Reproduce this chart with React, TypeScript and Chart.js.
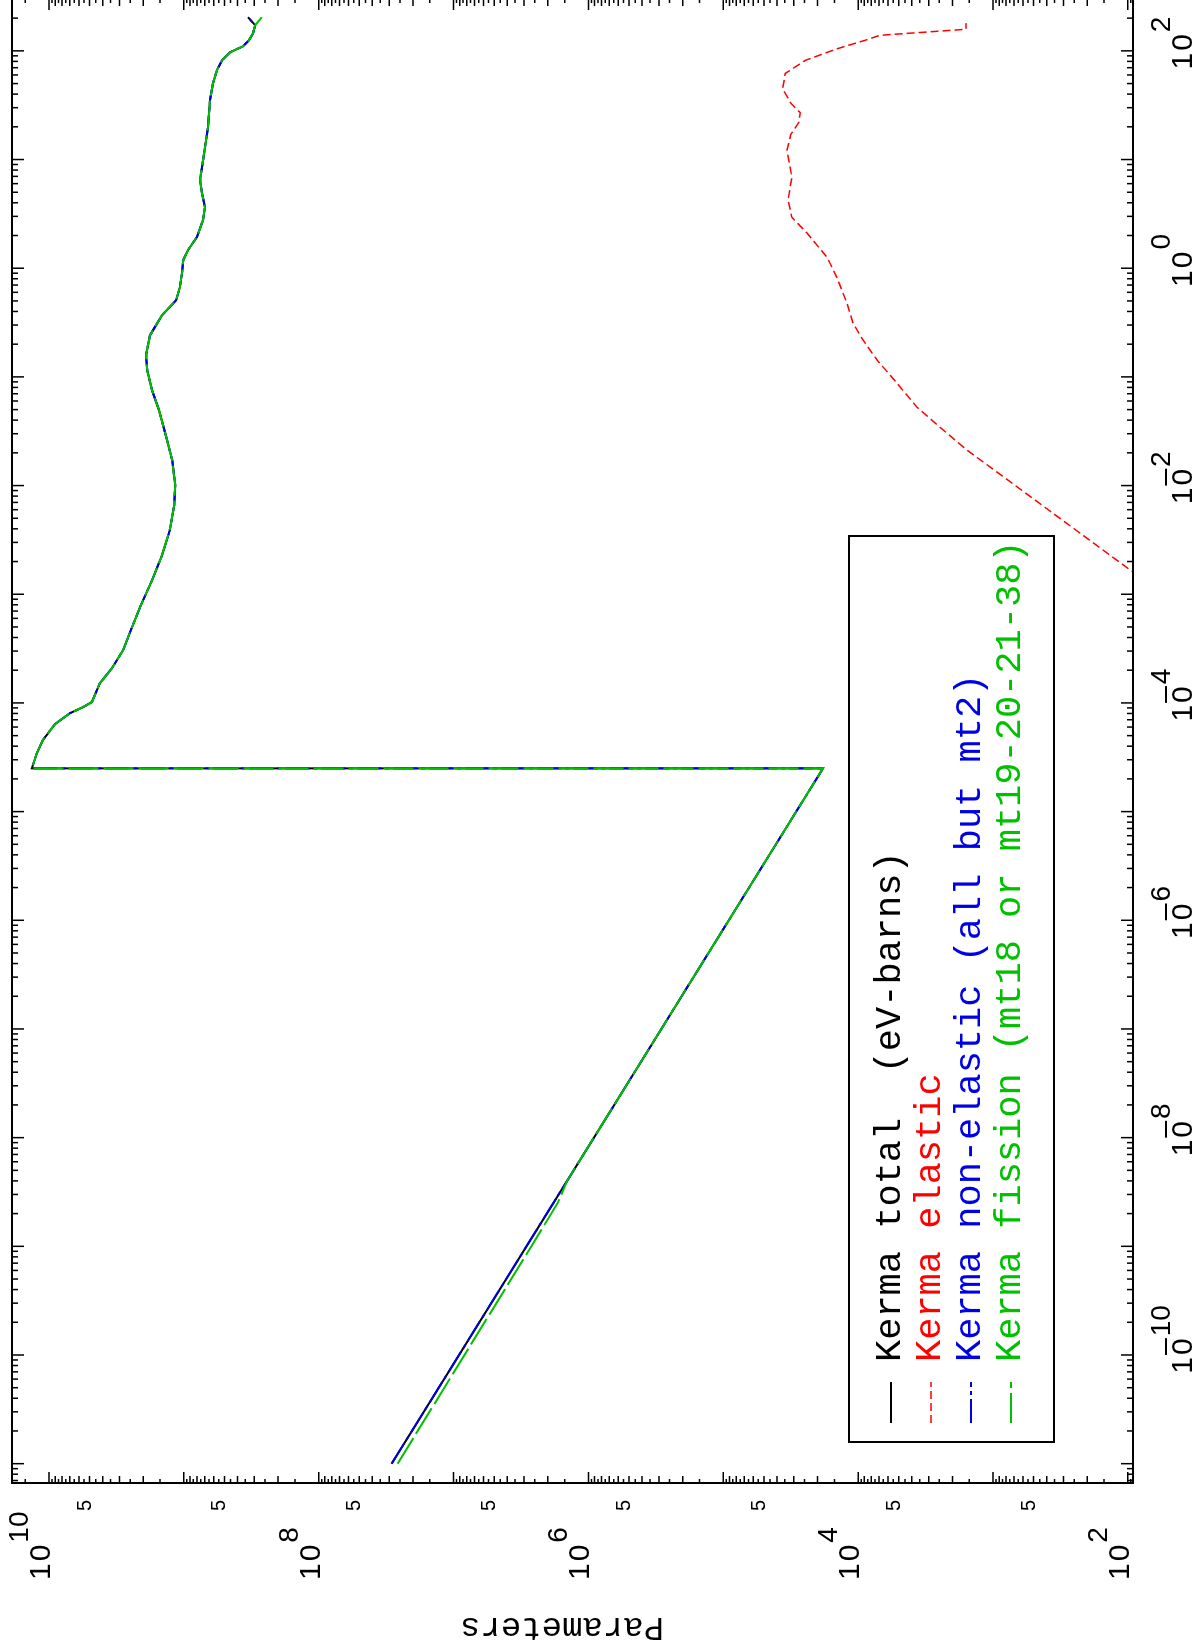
import React, { useEffect, useRef } from 'react';
import { Chart, registerables } from 'chart.js';

Chart.register(...registerables);

// ---------- data (energy in MeV as on the axis, kerma in eV-barns) ----------
const totalEnergy = [1e-11, 4e-9, 2.5e-5, 2.5e-5, 3.45e-5, 4.55e-5, 6.38e-5, 8.05e-5, 9.14e-5, 1.02e-4, 1.52e-4, 2.09e-4, 3.06e-4, 4.68e-4, 7.94e-4, 1.35e-3, 2.29e-3, 3.89e-3, 6.61e-3, 1.01e-2, 1.71e-2, 2.91e-2, 4.94e-2, 7.55e-2, 0.115, 0.158, 0.242, 0.370, 0.508, 0.668, 0.90, 1.19, 1.47, 1.93, 2.77, 3.64, 4.90, 6.46, 8.49, 13.0, 19.8, 35.2, 50.4, 66.4, 82.0, 97.0, 110, 125, 145, 172, 204];
const totalKerma = [2.88e7, 1.44e6, 1.82e4, 1.34e10, 1.23e10, 1.11e10, 9.04e9, 6.98e9, 5.60e9, 4.80e9, 4.19e9, 3.41e9, 2.82e9, 2.47e9, 2.08e9, 1.72e9, 1.45e9, 1.27e9, 1.18e9, 1.16e9, 1.22e9, 1.36e9, 1.53e9, 1.72e9, 1.87e9, 1.91e9, 1.78e9, 1.45e9, 1.14e9, 1.07e9, 1.03e9, 1.01e9, 9.31e8, 8.00e8, 7.21e8, 6.97e8, 7.33e8, 7.59e8, 7.33e8, 6.97e8, 6.62e8, 6.40e8, 6.08e8, 5.68e8, 5.21e8, 4.55e8, 3.64e8, 3.29e8, 3.07e8, 2.96e8, 3.34e8];

const nonElasticEnergy = [1e-11, 4e-9, 2.5e-5, 2.5e-5, 3.45e-5, 4.55e-5, 6.38e-5, 8.05e-5, 9.14e-5, 1.02e-4, 1.52e-4, 2.09e-4, 3.06e-4, 4.68e-4, 7.94e-4, 1.35e-3, 2.29e-3, 3.89e-3, 6.61e-3, 1.01e-2, 1.71e-2, 2.91e-2, 4.94e-2, 7.55e-2, 0.115, 0.158, 0.242, 0.370, 0.508, 0.668, 0.90, 1.19, 1.47, 1.93, 2.77, 3.64, 4.90, 6.46, 8.49, 13.0, 19.8, 35.2, 50.4, 66.4, 82.0, 97.0, 110, 125, 145, 172, 204];
const nonElasticKerma = [2.88e7, 1.44e6, 1.82e4, 1.34e10, 1.23e10, 1.11e10, 9.04e9, 6.98e9, 5.60e9, 4.80e9, 4.19e9, 3.41e9, 2.82e9, 2.47e9, 2.08e9, 1.72e9, 1.45e9, 1.27e9, 1.18e9, 1.16e9, 1.22e9, 1.36e9, 1.53e9, 1.72e9, 1.87e9, 1.91e9, 1.78e9, 1.45e9, 1.14e9, 1.07e9, 1.03e9, 1.01e9, 9.31e8, 8.00e8, 7.21e8, 6.97e8, 7.33e8, 7.59e8, 7.33e8, 6.97e8, 6.62e8, 6.40e8, 6.08e8, 5.68e8, 5.21e8, 4.55e8, 3.64e8, 3.29e8, 3.07e8, 2.96e8, 3.34e8];

const fissionEnergy = [1e-11, 1e-9, 2.5e-9, 4e-9, 2.5e-5, 2.5e-5, 3.45e-5, 4.55e-5, 6.38e-5, 8.05e-5, 9.14e-5, 1.02e-4, 1.52e-4, 2.09e-4, 3.06e-4, 4.68e-4, 7.94e-4, 1.35e-3, 2.29e-3, 3.89e-3, 6.61e-3, 1.01e-2, 1.71e-2, 2.91e-2, 4.94e-2, 7.55e-2, 0.115, 0.158, 0.242, 0.370, 0.508, 0.668, 0.90, 1.19, 1.47, 1.93, 2.77, 3.64, 4.90, 6.46, 8.49, 13.0, 19.8, 35.2, 50.4, 66.4, 82.0, 97.0, 110, 125, 145, 172, 204];
const fissionKerma = [2.6e7, 2.65e6, 1.69e6, 1.44e6, 1.82e4, 1.34e10, 1.23e10, 1.11e10, 9.04e9, 6.98e9, 5.60e9, 4.80e9, 4.19e9, 3.41e9, 2.82e9, 2.47e9, 2.08e9, 1.72e9, 1.45e9, 1.27e9, 1.18e9, 1.16e9, 1.22e9, 1.36e9, 1.53e9, 1.72e9, 1.87e9, 1.91e9, 1.78e9, 1.45e9, 1.14e9, 1.07e9, 1.03e9, 1.01e9, 9.31e8, 8.00e8, 7.21e8, 6.97e8, 7.33e8, 7.59e8, 7.33e8, 6.97e8, 6.62e8, 6.40e8, 6.08e8, 5.68e8, 5.21e8, 4.55e8, 3.64e8, 3.29e8, 3.07e8, 2.96e8, 2.64e8];

const elasticEnergy = [3.78e-4, 1.60e-3, 1.33e-2, 2.12e-2, 3.44e-2, 5.26e-2, 8.75e-2, 0.143, 0.218, 0.312, 0.476, 0.826, 1.26, 2.10, 2.94, 4.24, 6.9, 12.2, 17, 22, 27, 33, 45, 62, 82, 104, 125, 139, 158, 180];
const elasticKerma = [19.1, 91.6, 933, 1560, 2470, 3660, 5150, 7240, 9200, 1.09e4, 1.21e4, 1.44e4, 1.70e4, 2.39e4, 3.10e4, 3.31e4, 3.10e4, 3.37e4, 3.16e4, 2.75e4, 2.69e4, 3.16e4, 3.63e4, 3.47e4, 2.45e4, 1.45e4, 8900, 6920, 1585, 1585];

const energyMin = 6.64e-12;
const energyMax = 300;
const kermaMin = 91.6;
const kermaMax = 1.88e10;

const energyLabelExponents = [-10, -8, -6, -4, -2, 0, 2];
const kermaLabelExponents = [2, 4, 6, 8, 10];
const kermaFiveExponents = [2, 3, 4, 5, 6, 7, 8, 9];

const legendLabels = [
  'Kerma total  (eV-barns)',
  'Kerma elastic',
  'Kerma non-elastic (all but mt2)',
  'Kerma fission (mt18 or mt19-20-21-38)',
];
const seriesColors = ['#000000', '#ff0000', '#0000e6', '#00c000'];
const seriesDashes: number[][] = [[], [8, 4], [24, 4, 4, 4], [30, 5]];
const axisTitle = 'Parameters';

// ---------- layout (chart drawn landscape, then turned a quarter turn) ----------
const W = 1660;
const H = 1199;
const SHIFT = 1654;

const pts = (xs: number[], ys: number[]) => xs.map((x, i) => ({ x, y: ys[i] }));

const SANS = '"Liberation Sans", Arial, Helvetica, sans-serif';
const MONO = '"Liberation Mono", "Courier New", monospace';

const decorPlugin = {
  id: 'decor',
  afterDraw(chart: any) {
    const ctx: CanvasRenderingContext2D = chart.ctx;
    const a = chart.chartArea;
    const xs = chart.scales.x;
    const ys = chart.scales.y;
    ctx.save();
    ctx.setLineDash([]);
    ctx.strokeStyle = '#000';
    ctx.fillStyle = '#000';

    // frame
    ctx.lineWidth = 2;
    ctx.strokeRect(a.left, a.top, a.right - a.left, a.bottom - a.top);

    // ticks
    ctx.lineWidth = 1.5;
    ctx.beginPath();
    for (let e = -12; e <= 2; e++) {
      for (let m = 1; m <= 9; m++) {
        const v = m * Math.pow(10, e);
        if (v < energyMin || v > energyMax) continue;
        const p = xs.getPixelForValue(v);
        const len = m === 1 ? 12 : 6;
        ctx.moveTo(p, a.bottom);
        ctx.lineTo(p, a.bottom - len);
        ctx.moveTo(p, a.top);
        ctx.lineTo(p, a.top + len);
      }
    }
    for (let e = 1; e <= 10; e++) {
      for (let k = 2; k <= 19; k++) {
        const m = k / 2;
        const v = m * Math.pow(10, e);
        if (v < kermaMin || v > kermaMax) continue;
        const p = ys.getPixelForValue(v);
        const len = m === 1 ? 11 : Number.isInteger(m) ? 7 : 4;
        ctx.moveTo(a.left, p);
        ctx.lineTo(a.left + len, p);
        ctx.moveTo(a.right, p);
        ctx.lineTo(a.right - len, p);
      }
    }
    ctx.stroke();

    // energy tick labels
    ctx.textBaseline = 'alphabetic';
    ctx.textAlign = 'left';
    for (const e of energyLabelExponents) {
      const p = xs.getPixelForValue(Math.pow(10, e));
      ctx.font = `30px ${SANS}`;
      (ctx as any).letterSpacing = '2px';
      const w = ctx.measureText('10').width;
      const x0 = p - w / 2;
      const by = a.bottom + 59;
      ctx.fillText('10', x0, by);
      (ctx as any).letterSpacing = '0px';
      ctx.font = `28px ${SANS}`;
      ctx.fillText(String(Math.abs(e)), x0 + w, by - 22);
      if (e < 0) ctx.fillRect(x0 + w * 0.5, by - 27, w * 0.45, 2);
    }

    // kerma tick labels
    for (const e of kermaLabelExponents) {
      const p = ys.getPixelForValue(Math.pow(10, e));
      ctx.font = `30px ${SANS}`;
      (ctx as any).letterSpacing = '2px';
      const w = ctx.measureText('10').width;
      ctx.fillText('10', 74, p + 1);
      (ctx as any).letterSpacing = '0px';
      ctx.font = `28px ${SANS}`;
      ctx.fillText(String(e), 74 + w, p - 21);
    }
    ctx.textAlign = 'right';
    ctx.font = `20px ${SANS}`;
    for (const e of kermaFiveExponents) {
      const p = ys.getPixelForValue(5 * Math.pow(10, e));
      ctx.fillText('5', 154, p + 1);
    }

    // axis title
    ctx.save();
    ctx.translate(36, 562);
    ctx.rotate(-Math.PI / 2);
    ctx.textAlign = 'center';
    ctx.font = `34px ${MONO}`;
    ctx.fillText(axisTitle, 0, 0);
    ctx.restore();

    // legend
    ctx.lineWidth = 2;
    ctx.strokeStyle = '#000';
    ctx.strokeRect(212, 849, 906, 205);
    ctx.textAlign = 'left';
    ctx.font = `37px ${MONO}`;
    const rows = [900, 940, 980, 1020];
    legendLabels.forEach((label, i) => {
      const base = rows[i];
      ctx.strokeStyle = seriesColors[i];
      ctx.lineWidth = i === 1 ? 1.5 : 2;
      ctx.setLineDash(seriesDashes[i]);
      ctx.beginPath();
      ctx.moveTo(231, base - 9);
      ctx.lineTo(272, base - 9);
      ctx.stroke();
      ctx.setLineDash([]);
      ctx.fillStyle = seriesColors[i];
      ctx.fillText(label, 292, base);
    });
    ctx.restore();
  },
};

export default function App() {
  const ref = useRef<HTMLCanvasElement>(null);
  useEffect(() => {
    if (!ref.current) return;
    const chart = new Chart(ref.current, {
      type: 'line',
      data: {
        datasets: [
          {
            label: legendLabels[3],
            data: pts(fissionEnergy, fissionKerma),
            borderColor: seriesColors[3],
            borderWidth: 2,
            borderDash: seriesDashes[3],
            order: 0,
          },
          {
            label: legendLabels[2],
            data: pts(nonElasticEnergy, nonElasticKerma),
            borderColor: seriesColors[2],
            borderWidth: 2,
            borderDash: seriesDashes[2],
            order: 1,
          },
          {
            label: legendLabels[1],
            data: pts(elasticEnergy, elasticKerma),
            borderColor: seriesColors[1],
            borderWidth: 1.5,
            borderDash: seriesDashes[1],
            order: 2,
          },
          {
            label: legendLabels[0],
            data: pts(totalEnergy, totalKerma),
            borderColor: seriesColors[0],
            borderWidth: 2,
            order: 3,
          },
        ],
      },
      options: {
        animation: false,
        responsive: false,
        devicePixelRatio: 1,
        elements: { point: { radius: 0 }, line: { tension: 0, fill: false } },
        layout: { padding: { left: 171, right: 5, top: 12, bottom: 66 } },
        scales: {
          x: { type: 'logarithmic', min: energyMin, max: energyMax, display: false },
          y: { type: 'logarithmic', min: kermaMin, max: kermaMax, display: false },
        },
        plugins: { legend: { display: false }, tooltip: { enabled: false } },
      },
      plugins: [decorPlugin],
    });
    return () => chart.destroy();
  }, []);

  return (
    <div
      style={{
        position: 'fixed',
        left: 0,
        top: 0,
        width: W,
        height: H,
        transformOrigin: '0 0',
        transform: `translateY(${SHIFT}px) rotate(-90deg)`,
        background: '#fff',
      }}
    >
      <canvas ref={ref} width={W} height={H} style={{ width: W, height: H, display: 'block' }} />
    </div>
  );
}
